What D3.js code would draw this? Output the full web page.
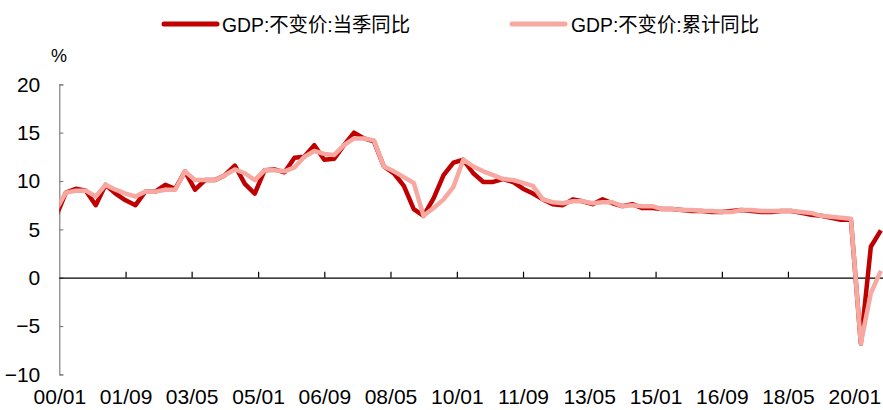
<!DOCTYPE html>
<html>
<head>
<meta charset="utf-8">
<script src="https://cdn.jsdelivr.net/npm/d3@7"></script>
<style>
  html, body { margin: 0; padding: 0; background: #fff; }
  svg { display: block; }
  text { font-family: "Liberation Sans", Arial, "Noto Sans CJK SC", sans-serif; fill: #000; }
</style>
</head>
<body>
<svg id="chart" width="883" height="410"></svg>
<script>
// ---- data (quarterly, first point = 1999Q4) ----
const firstQuarter = [1999, 12];          // year, quarter-end month of first value
const seriesNames = ["GDP:不变价:当季同比", "GDP:不变价:累计同比"];
const quarterlyYoY = [
  6.3,
  8.8, 9.2, 9.0, 7.5,
  9.6, 8.7, 8.0, 7.5,
  8.9, 8.9, 9.6, 9.2,
  11.0, 9.1, 10.1, 10.1,
  10.6, 11.6, 9.7, 8.7,
  11.1, 11.2, 10.9, 12.4,
  12.5, 13.7, 12.2, 12.3,
  13.7, 15.0, 14.4, 14.1,
  11.5, 10.8, 9.5, 7.1,
  6.4, 8.2, 10.6, 11.9,
  12.2, 10.8, 9.9, 9.9,
  10.2, 9.9, 9.2, 8.7,
  8.1, 7.6, 7.5, 8.1,
  7.9, 7.6, 8.1, 7.7,
  7.4, 7.6, 7.2, 7.2,
  7.1, 7.1, 7.0, 6.9,
  6.9, 6.8, 6.8, 6.9,
  7.0, 6.9, 6.8, 6.8,
  6.9, 6.9, 6.7, 6.5,
  6.4, 6.2, 6.0, 6.0,
  -6.8, 3.2, 4.9
];
const cumulativeYoY = [
  7.0,
  8.8, 9.0, 9.0, 8.4,
  9.6, 9.1, 8.7, 8.4,
  8.9, 8.9, 9.1, 9.1,
  11.0, 10.1, 10.1, 10.1,
  10.6, 11.2, 10.8, 10.1,
  11.1, 11.1, 11.0, 11.4,
  12.5, 13.1, 12.8, 12.7,
  13.7, 14.4, 14.4, 14.2,
  11.5, 11.0, 10.4, 9.8,
  6.4, 7.2, 8.1, 9.4,
  12.2, 11.5, 11.0, 10.6,
  10.2, 10.1, 9.8, 9.5,
  8.1, 7.8, 7.7, 7.9,
  7.9, 7.7, 7.8, 7.8,
  7.4, 7.5, 7.4, 7.4,
  7.1, 7.1, 7.0, 7.0,
  6.9, 6.9, 6.8, 6.8,
  7.0, 7.0, 6.9, 6.9,
  6.9, 6.9, 6.8, 6.7,
  6.4, 6.3, 6.2, 6.1,
  -6.8, -1.6, 0.7
];
const xTickLabels = ["00/01","01/09","03/05","05/01","06/09","08/05","10/01","11/09","13/05","15/01","16/09","18/05","20/01"];
const yTicks = [-10, -5, 0, 5, 10, 15, 20];
const yUnit = "%";

// ---- build dated rows ----
const dates = quarterlyYoY.map((_, i) => {
  const m = firstQuarter[1] - 1 + i * 3;
  return new Date(Date.UTC(firstQuarter[0], m, 1));
});
const rowsA = dates.map((d, i) => ({ d, v: quarterlyYoY[i] }));
const rowsB = dates.map((d, i) => ({ d, v: cumulativeYoY[i] }));
const parseTick = s => new Date(Date.UTC(2000 + +s.slice(0, 2), +s.slice(3, 5) - 1, 1));
const tickDates = xTickLabels.map(parseTick);

// ---- layout ----
const svg = d3.select("#chart");
const x0 = 59.3;
const x = d3.scaleUtc()
  .domain([tickDates[0], tickDates[tickDates.length - 1]])
  .range([x0, 854.3]);
const y = d3.scaleLinear().domain([-10, 20]).range([374.4, 84.3]);
const colorA = "#C00000", colorB = "#F7A9A1";

// clip
svg.append("defs").append("clipPath").attr("id", "plot")
  .append("rect").attr("x", x0).attr("y", 0).attr("width", 883 - x0).attr("height", 410);

// y axis
const yAxis = svg.append("g")
  .attr("transform", `translate(${x0},0)`)
  .call(d3.axisLeft(y).tickValues(yTicks).tickSize(-4).tickPadding(19).tickFormat(d3.format("d")));
yAxis.select(".domain").attr("stroke", "#808080").attr("stroke-width", 1.2);
yAxis.selectAll(".tick line").attr("stroke", "#808080").attr("stroke-width", 1.2);
yAxis.selectAll(".tick text").attr("font-size", 21).attr("fill", "#000")
  .style("font-family", '"Liberation Sans", Arial, sans-serif');

// x axis line + inward ticks at y=0
const xEnd = 883;
const xAxisG = svg.append("g").attr("transform", `translate(0,${y(0)})`)
  .call(d3.axisBottom(x).tickValues(tickDates.slice(1)).tickSize(-6).tickFormat(""));
xAxisG.select(".domain").attr("d", `M${x0},0.5H${xEnd}`).attr("stroke", "#000").attr("stroke-width", 1.2);
xAxisG.selectAll(".tick line").attr("stroke", "#000").attr("stroke-width", 1.2);

// x labels at bottom
const xLab = svg.append("g").attr("transform", `translate(0,389)`)
  .call(d3.axisBottom(x).tickValues(tickDates).tickSize(0).tickPadding(0)
    .tickFormat((d, i) => xTickLabels[i]));
xLab.select(".domain").remove();
xLab.selectAll(".tick text").attr("font-size", 21).attr("fill", "#000")
  .style("font-family", '"Liberation Sans", Arial, sans-serif');

// unit
svg.append("text").attr("x", 59).attr("y", 62).attr("text-anchor", "middle")
  .attr("font-size", 18).text(yUnit);

// lines
const line = d3.line().x(d => x(d.d)).y(d => y(d.v));
const plot = svg.append("g").attr("clip-path", "url(#plot)");
plot.append("path").datum(rowsA).attr("d", line)
  .attr("fill", "none").attr("stroke", colorA).attr("stroke-width", 4.5)
  .attr("stroke-linejoin", "round");
plot.append("path").datum(rowsB).attr("d", line)
  .attr("fill", "none").attr("stroke", colorB).attr("stroke-width", 4.5)
  .attr("stroke-linejoin", "round");

// legend
const legend = [
  { name: seriesNames[0], color: colorA, x1: 164, tx: 222 },
  { name: seriesNames[1], color: colorB, x1: 512, tx: 571 }
];
const lg = svg.append("g");
legend.forEach(l => {
  lg.append("line").attr("x1", l.x1).attr("x2", l.x1 + 53).attr("y1", 24).attr("y2", 24)
    .attr("stroke", l.color).attr("stroke-width", 5).attr("stroke-linecap", "round");
  lg.append("text").attr("x", l.tx).attr("y", 31.5).attr("font-size", 20)
    .attr("textLength", 188).attr("lengthAdjust", "spacingAndGlyphs")
    .style("font-family", '"Liberation Sans", "Noto Sans CJK SC", sans-serif')
    .text(l.name);
});
</script>
</body>
</html>
